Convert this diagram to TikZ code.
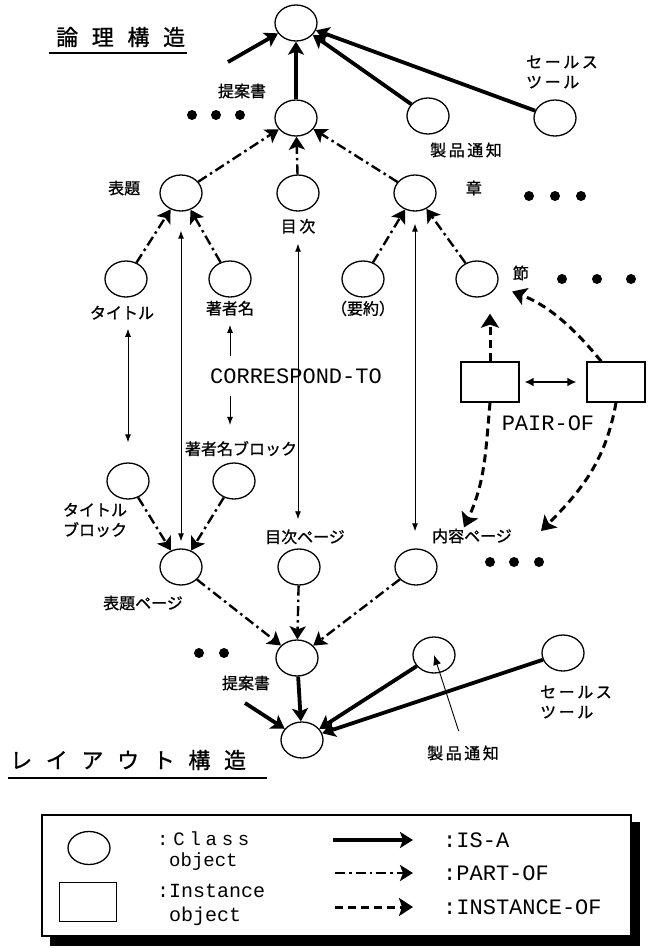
\documentclass[tikz,border=0pt]{standalone}
\usepackage{fontspec}
\newfontfamily\jpfont[FakeBold=1]{Noto Sans CJK JP}
\newfontfamily\jpwide[LetterSpace=16,FakeBold=1]{Noto Sans CJK JP}
\newfontfamily\jphead[LetterSpace=62,FakeBold=1]{Noto Sans CJK JP}
\newfontfamily\keyfont{Liberation Mono}
\newfontfamily\keywide[LetterSpace=25]{Liberation Mono}
\usetikzlibrary{arrows.meta,positioning,calc,shapes.geometric}

\begin{document}
\begin{tikzpicture}[x=1pt, y=-1pt,
  cls/.style={draw, ellipse, line width=1.3pt, minimum width=42pt, minimum height=36pt, inner sep=0pt},
  inst/.style={draw, rectangle, line width=1.2pt, minimum width=58pt, minimum height=40pt, inner sep=0pt},
  lbl/.style={font=\jpfont\fontsize{16}{20}\selectfont, inner sep=1pt, align=center},
  wlbl/.style={lbl, font=\jpwide\fontsize{16}{20}\selectfont, align=left},
  head/.style={font=\jphead\fontsize{22}{24}\selectfont, inner sep=0pt, anchor=west},
  tt/.style={font=\keyfont\fontsize{22}{26}\selectfont, inner sep=0pt},
  isa/.style={line width=3.8pt, -{Stealth[length=13pt,width=16pt,inset=3pt]}},
  partof/.style={line width=2.4pt, dash pattern=on 10pt off 4pt on 2.5pt off 4pt, -{Stealth[length=13pt,width=16pt,inset=3pt]}},
  instof/.style={line width=3pt, dash pattern=on 8pt off 5pt, -{Stealth[length=14pt,width=18pt,inset=3pt]}},
  corr/.style={line width=0.9pt},
  >={Latex[length=8pt,width=6pt]}]
\useasboundingbox (0,0) rectangle (648,948);

% logical structure
\node[head] (lhead) at (56,37) {論理構造};
\draw[line width=2pt] (49,53) -- (187,53);
\node[cls] (lroot) at (296,23) {};
\node[cls] (lprop) at (296,118) {};
\node[cls] (lprod) at (428,116) {};
\node[cls] (lsales) at (555,118) {};
\node[cls] (ltitle) at (181,193) {};
\node[cls] (ltoc) at (298,193) {};
\node[cls] (lchap) at (415,193) {};
\node[cls] (ltname) at (126,279) {};
\node[cls] (lauth) at (230,279) {};
\node[cls] (lsum) at (363,279) {};
\node[cls] (lsec) at (477,279) {};
\node[inst] (inA) at (490,382) {};
\node[inst] (inB) at (616,382) {};

\node[lbl] (lpropl) at (242,91) {提案書};
\node[wlbl] (lprodl) at (466,150) {製品通知};
\node[wlbl] (lsalesl) at (562,72) {セールス\\ツール};
\node[lbl, left=18pt of ltitle, yshift=5pt] (ltitlel) {表題};
\node[wlbl, below=6pt of ltoc] (ltocl) {目次};
\node[lbl, right=28pt of lchap, yshift=5pt] (lchapl) {章};
\node[lbl, below=7pt of ltname, xshift=-4pt] (ltnamel) {タイトル};
\node[lbl, below=2pt of lauth] (lauthl) {著者名};
\node[lbl, below=2pt of lsum] (lsuml) {（要約）};
\node[lbl, right=13pt of lsec, yshift=6pt] (lsecl) {節};
\node[tt, inner ysep=12pt] (corr) at (296,376) {CORRESPOND-TO};
\node[tt] (pairof) at (548,423) {PAIR-OF};

\foreach \x in {192,216,240} \fill (\x,115) circle (5pt);
\foreach \x in {529,555,581} \fill (\x,196) circle (5pt);
\foreach \x in {562,597,631} \fill (\x,279) circle (5pt);

% layout structure
\node[cls] (btname) at (128,481) {};
\node[cls] (bauth) at (234,481) {};
\node[cls] (ptitle) at (181,567) {};
\node[cls] (ptoc) at (299,567) {};
\node[cls] (pcont) at (416,567) {};
\node[cls] (yprop) at (297,658) {};
\node[cls] (yprod) at (434,655) {};
\node[cls] (ysales) at (563,653) {};
\node[cls] (yroot) at (302,740) {};

\node[lbl] (btnamel) at (95,520) {タイトル\\ブロック};
\node[lbl, above=5pt of bauth, xshift=7pt] (bauthl) {著者名ブロック};
\node[lbl] (ptitlel) at (143,603) {表題ページ};
\node[lbl, above=3pt of ptoc, xshift=6pt] (ptocl) {目次ページ};
\node[lbl] (pcontl) at (472,536) {内容ページ};
\node[lbl] (ypropl) at (246,683) {提案書};
\node[wlbl] (yprodl) at (463,753) {製品通知};
\node[wlbl] (ysalesl) at (576,702) {セールス\\ツール};
\node[head] (yhead) at (10,760) {レイアウト構造};
\draw[line width=2.4pt] (8,778) -- (267,778);

\foreach \x in {490,514,539} \fill (\x,562) circle (5pt);
\foreach \x in {199,224} \fill (\x,653) circle (5pt);

% IS-A
\coordinate (lext) at (228,62);
\draw[isa] (lext) -- (lroot);
\draw[isa] (lprop) -- (lroot);
\draw[isa] (lprod) -- (lroot);
\draw[isa] (lsales) -- (lroot);
\coordinate (yext) at (245,703);
\draw[isa] (yext) -- (yroot);
\draw[isa] (yprop) -- (yroot);
\draw[isa] (yprod) -- (yroot);
\draw[isa] (ysales) -- (yroot);
\draw[corr, -{Latex[length=10pt,width=8pt]}, shorten <=14pt] (yprodl.north) -- (yprod.center);

% PART-OF
\draw[partof] (ltitle) -- (lprop);
\draw[partof] (ltoc) -- (lprop);
\draw[partof] (lchap) -- (lprop);
\draw[partof] (ltname) -- (ltitle);
\draw[partof] (lauth) -- (ltitle);
\draw[partof] (lsum) -- (lchap);
\draw[partof] (lsec) -- (lchap);
\draw[partof] (btname) -- (ptitle);
\draw[partof] (bauth) -- (ptitle);
\draw[partof] (ptitle) -- (yprop);
\draw[partof] (ptoc) -- (yprop);
\draw[partof] (pcont) -- (yprop);

% CORRESPOND-TO
\draw[corr, <->, shorten <=8pt, shorten >=20pt] (ltnamel.south -| btname) -- (btname.north);
\draw[corr, ->, shorten >=8pt] (corr.north -| lauthl) -- (lauthl.south);
\draw[corr, ->, shorten >=15pt] (corr.south -| lauthl) -- (lauthl |- bauthl.north);
\draw[corr, <->, shorten <=19pt, shorten >=7pt] (ltitle.south) -- (ptitle.north);
\draw[corr, <->, shorten <=9pt, shorten >=9pt] (ltocl.south) -- (ltocl.south |- ptocl.north);
\draw[corr, <->, shorten <=12pt, shorten >=17pt] (lchap.south) -- (lchap.south |- pcont.north);

% PAIR-OF, INSTANCE-OF
\draw[line width=1.8pt, {Latex[length=9pt,width=9pt]}-{Latex[length=9pt,width=9pt]}, shorten <=5pt, shorten >=10pt] (inA) -- (inB);
\draw[instof, shorten >=16pt] (inA.north) -- (inA.north |- lsec.south);
\draw[instof, shorten >=16pt] ($(inB.north west)!0.25!(inB.north east)$) to[bend right=15] (lsec);
\draw[instof] (inA.south) to[out=-95, in=65] ([xshift=-8pt]pcontl.north);
\coordinate (pmore) at (541,531);
\draw[instof] (inB.south) to[out=-100, in=45] (pmore);

% legend
\draw[line width=1.2pt] (42,815) rectangle (631,936);
\fill (631,822) rectangle (640,946);
\fill (50,936) rectangle (640,946);
\node[cls, minimum height=33pt] (kcls) at (89,848) {};
\node[inst, minimum width=57pt, minimum height=39pt] (kinst) at (88,902) {};
\node[tt, font=\keyfont\fontsize{19}{21}\selectfont, align=left, anchor=west] (kclst) at (157,851) {{\keywide :Class}\\\hspace*{12pt}object};
\node[tt, font=\keyfont\fontsize{20}{24}\selectfont, align=left, anchor=west] (kinstt) at (157,905) {:Instance\\\hspace*{12pt}object};
\coordinate (kisa0) at (333,840);
\coordinate (kisa1) at (413,840);
\coordinate (kpart0) at (335,873);
\coordinate (kpart1) at (413,873);
\coordinate (kinst0) at (335,907);
\coordinate (kinst1) at (413,907);
\draw[isa] (kisa0) -- (kisa1);
\draw[partof] (kpart0) -- (kpart1);
\draw[instof] (kinst0) -- (kinst1);
\node[tt, anchor=west] (kisat) at (443,840) {:IS-A};
\node[tt, anchor=west] (kpartt) at (443,873) {:PART-OF};
\node[tt, anchor=west] (kinstot) at (443,907) {:INSTANCE-OF};
\end{tikzpicture}
\end{document}
